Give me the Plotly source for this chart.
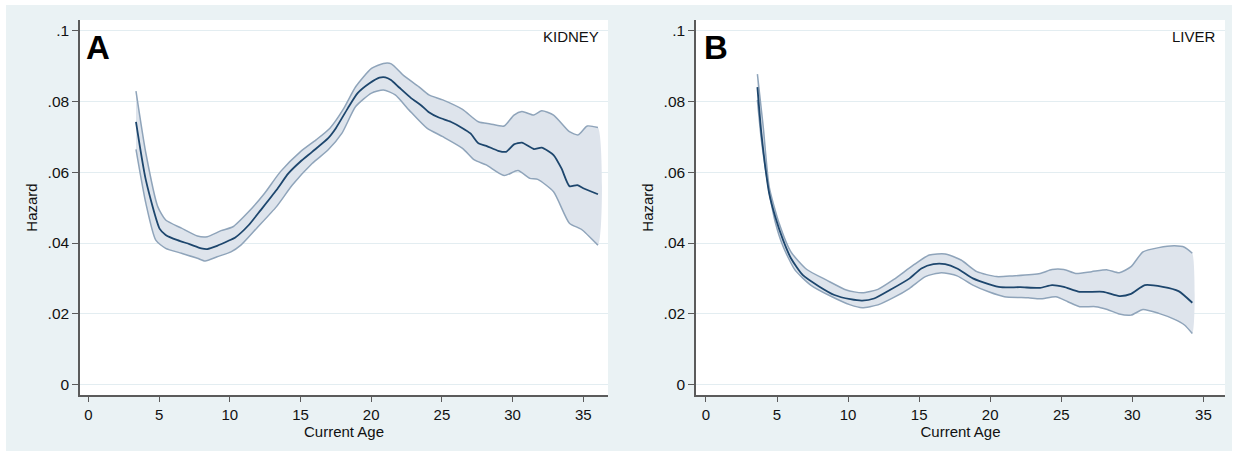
import plotly.graph_objects as go

# ---------------- Data ----------------
kid_c_age = [3.36, 4.06, 5.04, 5.46, 6.3, 7.14, 7.98, 8.4, 9.1, 9.94, 10.36, 11.34, 12.18, 13.3, 14.14,
             14.98, 15.82, 16.94, 17.5, 18.34, 19.04, 19.88, 20.58, 21.0, 21.4, 21.98, 22.82, 23.52,
             24.08, 24.78, 25.62, 26.46, 27.02, 27.58, 28.14, 28.98, 29.54, 30.1, 30.66, 31.5, 32.06,
             32.9, 33.46, 34.02, 34.58, 35.0, 36.04]
kid_c_haz = [0.0743, 0.0578, 0.0440, 0.0423, 0.0408, 0.0397, 0.0385, 0.0383, 0.0392, 0.0407, 0.0415,
             0.0451, 0.0493, 0.0550, 0.0597, 0.0630, 0.0658, 0.0696, 0.0725, 0.0781, 0.0824, 0.0852,
             0.0868, 0.0869, 0.0861, 0.0840, 0.0810, 0.0790, 0.0770, 0.0755, 0.0743, 0.0725, 0.0710,
             0.0682, 0.0675, 0.0661, 0.0658, 0.0679, 0.0684, 0.0666, 0.0670, 0.0649, 0.0611, 0.0561,
             0.0564, 0.0555, 0.0538]

kid_u_age = [3.36, 4.06, 4.9, 5.46, 6.58, 7.7, 8.4, 9.38, 10.22, 11.34, 12.46, 13.58, 14.98, 16.1,
             17.08, 18.06, 18.9, 20.02, 20.86, 21.42, 22.26, 23.38, 24.08, 25.06, 26.46, 27.58, 28.42,
             29.4, 30.1, 30.66, 31.5, 32.06, 32.9, 34.02, 34.64, 35.28, 36.04]
kid_u_haz = [0.0830, 0.0654, 0.0503, 0.0465, 0.0442, 0.0420, 0.0418, 0.0435, 0.0446, 0.0489, 0.0541,
             0.0602, 0.0658, 0.0692, 0.0725, 0.0781, 0.0842, 0.0894, 0.0908, 0.0907, 0.0875, 0.0842,
             0.0819, 0.0805, 0.0778, 0.0743, 0.0737, 0.0731, 0.0762, 0.0772, 0.0762, 0.0774, 0.0762,
             0.0715, 0.0706, 0.0731, 0.0727]

kid_l_age = [3.36, 4.06, 4.76, 5.46, 6.58, 7.7, 8.26, 9.1, 10.08, 10.78, 11.9, 13.3, 14.42, 15.82,
             16.94, 17.92, 18.9, 20.02, 20.86, 21.7, 22.68, 23.94, 25.06, 26.46, 27.3, 28.14, 29.4,
             30.38, 31.22, 31.78, 32.9, 34.02, 34.86, 36.04]
kid_l_haz = [0.0665, 0.0512, 0.0408, 0.0385, 0.0371, 0.0357, 0.0349, 0.0361, 0.0375, 0.0394, 0.0442,
             0.0503, 0.0564, 0.0625, 0.0663, 0.0710, 0.0786, 0.0824, 0.0833, 0.0819, 0.0776, 0.0725,
             0.0701, 0.0668, 0.0635, 0.0621, 0.0591, 0.0605, 0.0583, 0.0580, 0.0545, 0.0456, 0.0439,
             0.0394]

liv_c_age = [3.62, 3.9, 4.17, 4.45, 4.87, 5.43, 5.98, 6.82, 7.93, 9.04, 10.16, 10.99, 11.83, 12.94,
             14.33, 15.16, 16.0, 16.83, 17.67, 18.78, 19.89, 20.73, 22.12, 23.51, 24.35, 25.18, 26.29,
             27.96, 29.08, 29.91, 30.88, 32.14, 33.25, 34.22]
liv_c_haz = [0.0841, 0.0710, 0.0616, 0.0540, 0.0475, 0.0408, 0.0357, 0.0309, 0.0278, 0.0253, 0.0241,
             0.0237, 0.0243, 0.0267, 0.0300, 0.0328, 0.0340, 0.0340, 0.0328, 0.0300, 0.0284, 0.0275,
             0.0275, 0.0273, 0.0281, 0.0276, 0.0262, 0.0262, 0.0250, 0.0256, 0.0281, 0.0276, 0.0264,
             0.0231]

liv_u_age = [3.62, 4.03, 4.45, 5.15, 5.98, 7.1, 8.49, 9.88, 10.99, 12.1, 13.22, 14.61, 15.72, 16.83,
             17.95, 19.06, 20.45, 21.56, 23.51, 24.35, 25.18, 26.02, 27.13, 28.24, 29.08, 29.91, 30.75,
             31.86, 32.97, 33.67, 34.22]
liv_u_haz = [0.0878, 0.0729, 0.0559, 0.0456, 0.0375, 0.0325, 0.0295, 0.0267, 0.0259, 0.0269, 0.0297,
             0.0338, 0.0366, 0.0369, 0.0352, 0.0319, 0.0305, 0.0307, 0.0314, 0.0325, 0.0325, 0.0314,
             0.0319, 0.0324, 0.0316, 0.0333, 0.0375, 0.0387, 0.0392, 0.0388, 0.0371]

liv_l_age = [3.62, 3.9, 4.31, 4.87, 5.43, 6.26, 7.37, 8.76, 10.16, 10.99, 12.1, 13.22, 14.33, 15.44,
             16.56, 17.67, 18.78, 19.89, 21.0, 22.68, 23.51, 24.62, 25.46, 26.29, 27.41, 28.24, 29.08,
             29.91, 30.75, 31.86, 32.97, 33.67, 34.22]
liv_l_haz = [0.0805, 0.0692, 0.0578, 0.0460, 0.0390, 0.0324, 0.0281, 0.0250, 0.0225, 0.0217, 0.0225,
             0.0246, 0.0272, 0.0305, 0.0316, 0.0307, 0.0281, 0.0262, 0.0248, 0.0245, 0.0242, 0.0248,
             0.0234, 0.0220, 0.0220, 0.0212, 0.0199, 0.0196, 0.0212, 0.0201, 0.0184, 0.0168, 0.0144]

x_ticks = [0, 5, 10, 15, 20, 25, 30, 35]
y_ticks = [0, 0.02, 0.04, 0.06, 0.08, 0.1]
y_tick_labels = ["0", ".02", ".04", ".06", ".08", ".1"]
panel_letters = ["A", "B"]
panel_names = ["KIDNEY", "LIVER"]

# ---------------- Styles ----------------
W, H = 1237, 453
BG = "#EAF2F4"
FILL = "#DEE4EC"
BAND = "#8FA4BA"
CENTER = "#1D466D"
AXIS = "#5b5b5b"
FONT = "Liberation Sans, Arial, sans-serif"

fig = go.Figure()

panels = [
    (kid_c_age, kid_c_haz, kid_u_age, kid_u_haz, kid_l_age, kid_l_haz, "x", "y"),
    (liv_c_age, liv_c_haz, liv_u_age, liv_u_haz, liv_l_age, liv_l_haz, "x2", "y2"),
]
for ca, ch, ua, uh, la, lh, xa, ya in panels:
    fig.add_trace(go.Scatter(
        x=ua + la[::-1], y=uh + lh[::-1], fill="toself", fillcolor=FILL,
        mode="lines", line=dict(width=0, shape="spline", smoothing=0.6),
        xaxis=xa, yaxis=ya, hoverinfo="skip", showlegend=False))
    for a, h in ((ua, uh), (la, lh)):
        fig.add_trace(go.Scatter(x=a, y=h, mode="lines",
                                 line=dict(color=BAND, width=1.5, shape="spline", smoothing=0.6),
                                 xaxis=xa, yaxis=ya, showlegend=False))
    fig.add_trace(go.Scatter(x=ca, y=ch, mode="lines",
                             line=dict(color=CENTER, width=1.8, shape="spline", smoothing=0.6),
                             xaxis=xa, yaxis=ya, showlegend=False))

ydom = [1 - 395 / H, 1 - 20 / H]
common_x = dict(
    tickmode="array", tickvals=x_ticks, ticks="outside", ticklen=5, tickwidth=1.2, tickcolor=AXIS,
    showline=True, linecolor=AXIS, linewidth=1.5, showgrid=False, zeroline=False,
    tickfont=dict(family=FONT, size=15, color="#111"),
    title=dict(text="Current Age", font=dict(family=FONT, size=15, color="#111"), standoff=0),
)
common_y = dict(
    tickmode="array", tickvals=y_ticks, ticktext=y_tick_labels, ticks="outside", ticklen=6,
    tickwidth=1.2, tickcolor=AXIS, showline=True, linecolor=AXIS, linewidth=1.5,
    showgrid=True, gridcolor="#E3EDF1", gridwidth=1, zeroline=False, domain=ydom,
    range=[-0.003, 0.1031],
    tickfont=dict(family=FONT, size=15.5, color="#111"),
    title=dict(text="Hazard", font=dict(family=FONT, size=15, color="#111"), standoff=6),
)

white_strips = [
    (0, 0, W, 5), (0, 0, 6, H), (1232, 0, W, H), (0, 451, W, H),
]
shapes = [dict(type="rect", xref="paper", yref="paper", x0=a / W, x1=c / W,
               y0=1 - d / H, y1=1 - b / H, fillcolor="white", line=dict(width=0), layer="below")
          for a, b, c, d in white_strips]

fig.update_layout(
    width=W, height=H, margin=dict(l=0, r=0, t=0, b=0),
    paper_bgcolor=BG, plot_bgcolor="white", showlegend=False,
    xaxis=dict(domain=[80 / W, 608 / W], range=[-0.6, 36.75], anchor="y", **common_x),
    yaxis=dict(anchor="x", **common_y),
    xaxis2=dict(domain=[696 / W, 1225 / W], range=[-0.7, 36.52], anchor="y2", **common_x),
    yaxis2=dict(anchor="x2", **common_y),
    shapes=shapes,
)

annotations = []
for letter, name, xl, xr in ((panel_letters[0], panel_names[0], 84, 601),
                             (panel_letters[1], panel_names[1], 702, 1218)):
    annotations.append(dict(text=f"<b>{letter}</b>", xref="paper", yref="paper", x=xl / W,
                            y=1 - 48 / H, xanchor="left", yanchor="middle", showarrow=False,
                            font=dict(family=FONT, size=33, color="#000")))
    annotations.append(dict(text=name, xref="paper", yref="paper", x=xr / W, y=1 - 37 / H,
                            xanchor="right", yanchor="middle", showarrow=False,
                            font=dict(family=FONT, size=15, color="#111")))
fig.update_layout(annotations=annotations)

fig.write_html("out.html", config={"displayModeBar": False},
               post_script="document.body.style.margin='0';document.body.style.overflow='hidden';")
